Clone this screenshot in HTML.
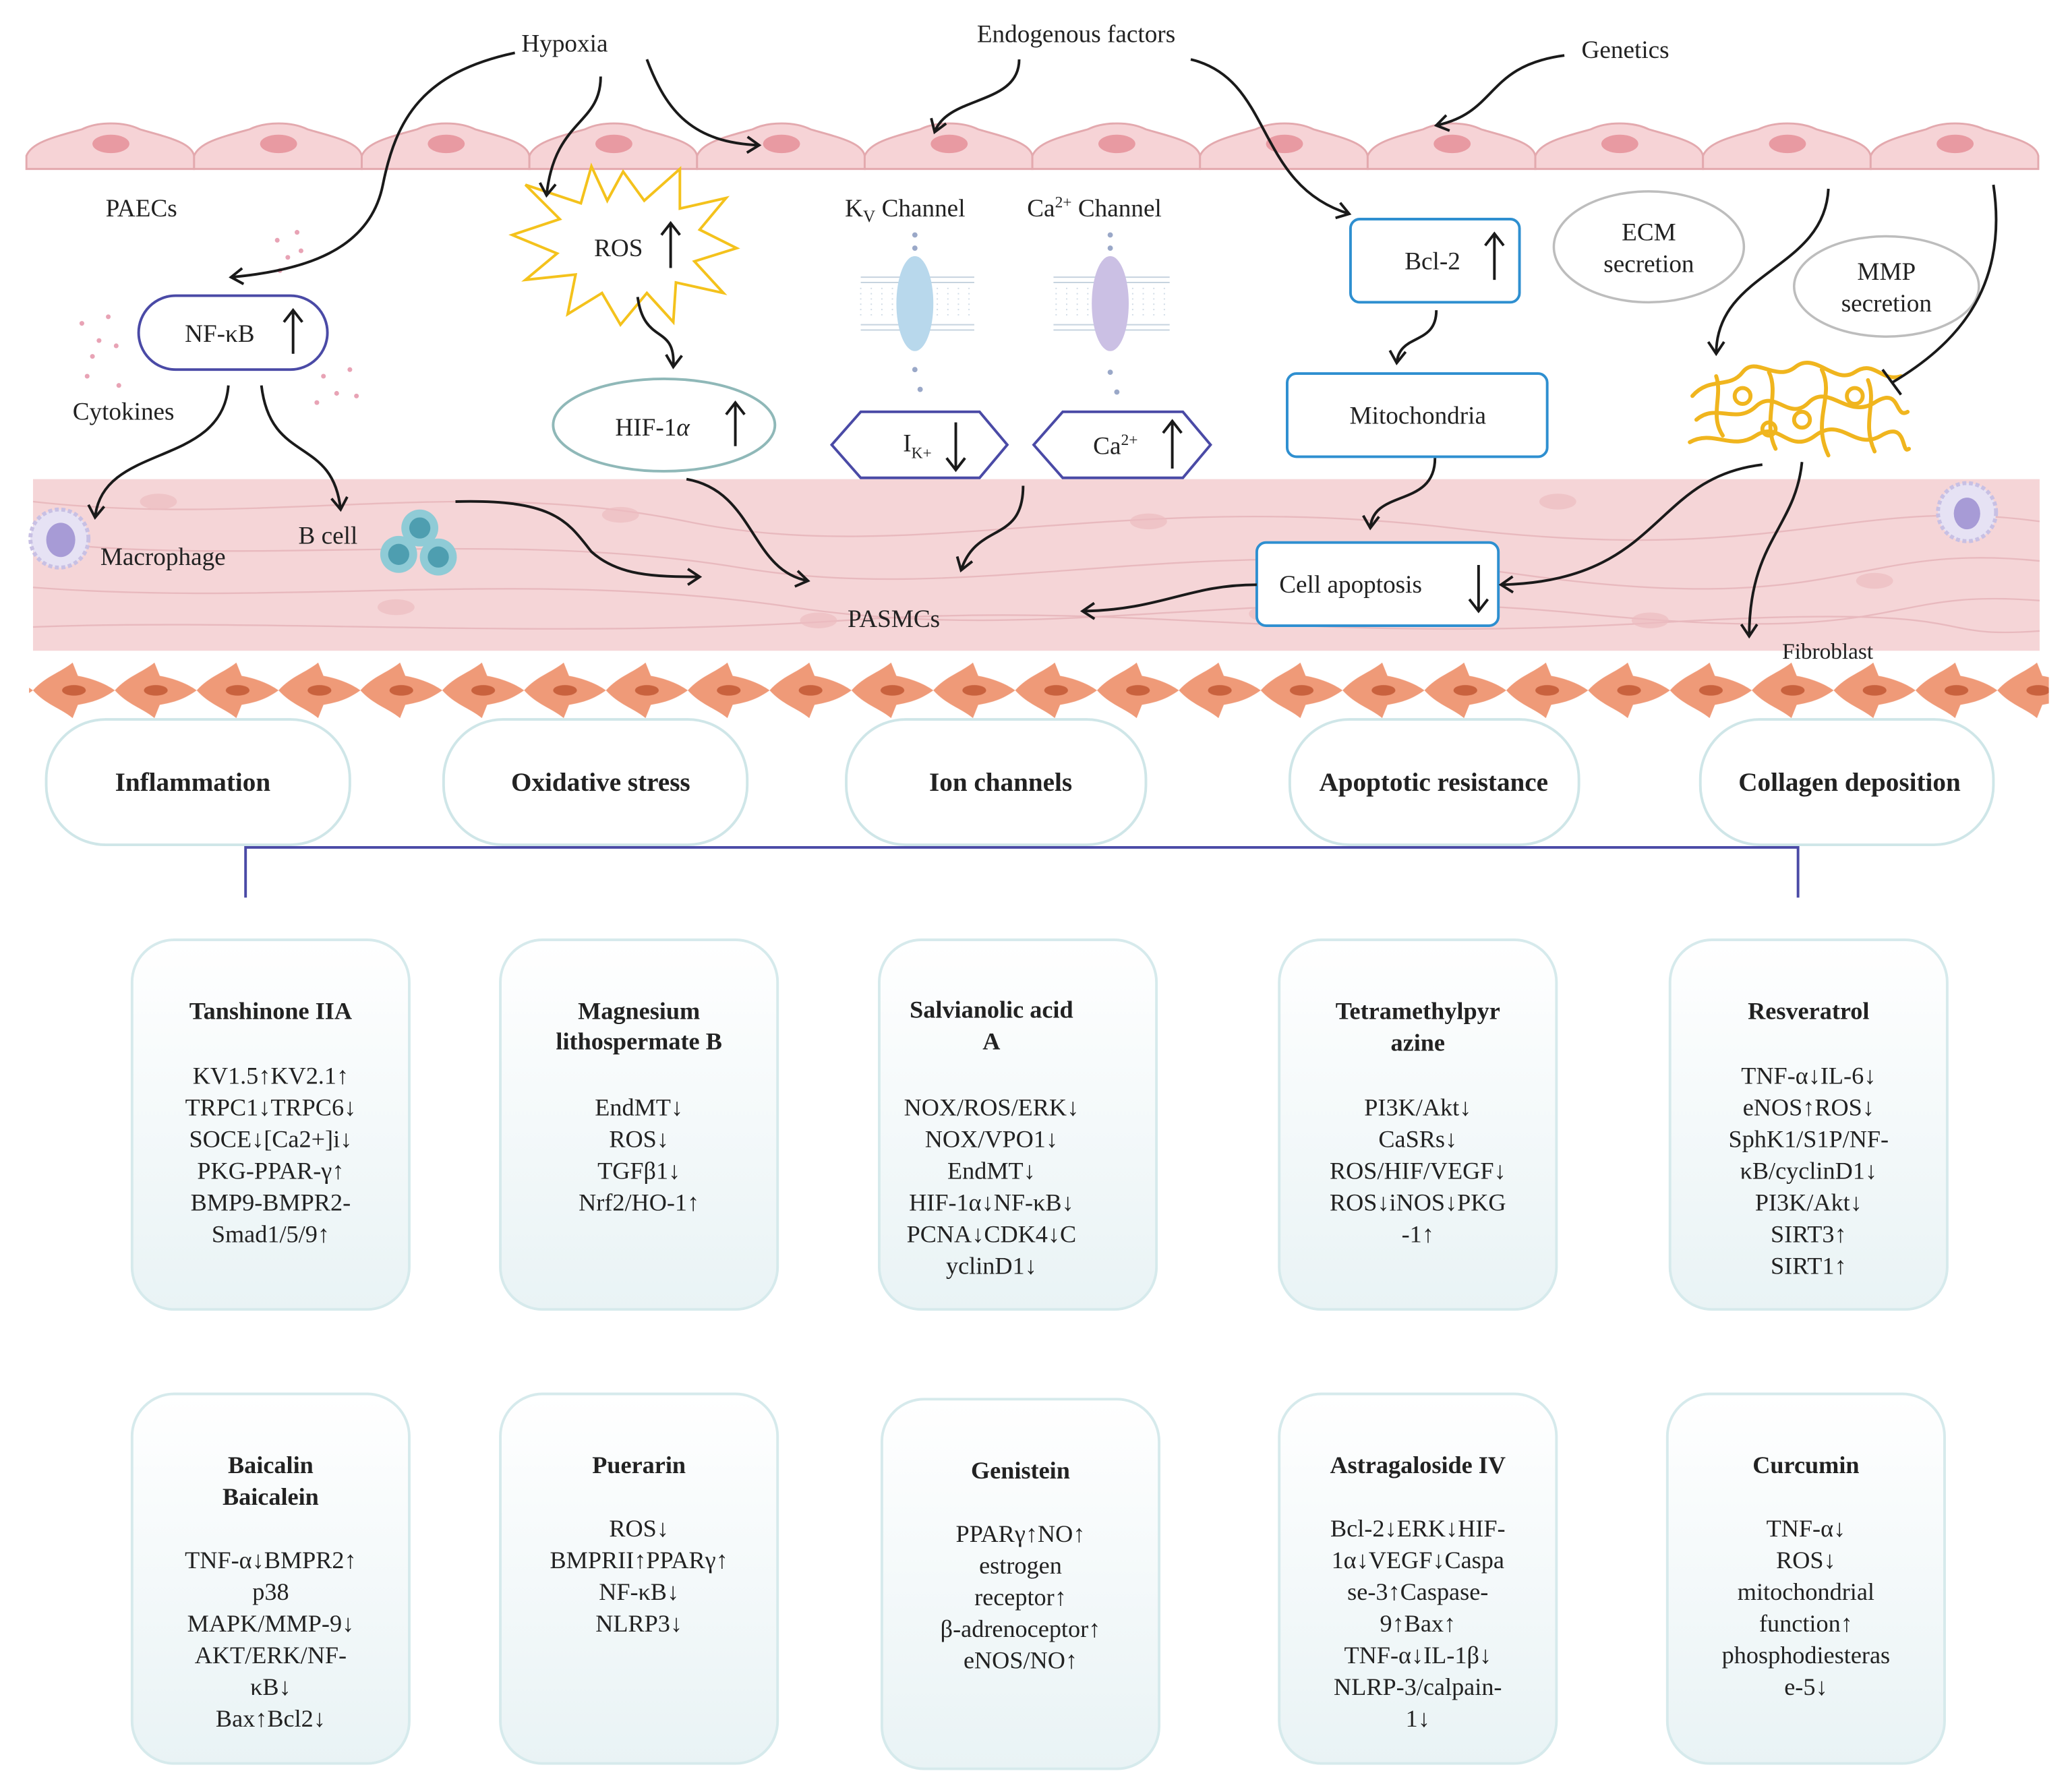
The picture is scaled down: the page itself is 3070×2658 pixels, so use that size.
<!DOCTYPE html>
<html><head><meta charset="utf-8"><style>
html,body{margin:0;padding:0;background:#fff}
svg{display:block}
text{font-family:"Liberation Serif",serif;fill:#222}
.t{font-size:19px}
.bt{font-size:18.5px;font-weight:bold;text-anchor:middle}
.bx{font-size:18.5px;text-anchor:middle}
.cat{font-size:20px;font-weight:bold;text-anchor:middle}
.ar{fill:none;stroke:#1a1a1a;stroke-width:2}
</style></head><body>
<svg width="3070" height="2658" viewBox="0 0 1568 1357.6" xmlns="http://www.w3.org/2000/svg">
<defs>
<marker id="a" markerWidth="14" markerHeight="14" refX="11" refY="7" orient="auto" markerUnits="userSpaceOnUse">
<path d="M2,1 L11,7 L2,13" fill="none" stroke="#1a1a1a" stroke-width="2"/></marker>
<linearGradient id="g" x1="0" y1="0" x2="0" y2="1"><stop offset="0" stop-color="#ffffff"/><stop offset="1" stop-color="#e9f3f5"/></linearGradient>
<pattern id="fib" x="25" y="500" width="62" height="46" patternUnits="userSpaceOnUse">
<path d="M0,23 C10,12 20,10 30,2 L34,12 C45,14 55,18 62,23 C52,30 45,32 34,34 L30,44 C20,36 10,34 0,23Z" fill="#ef9a78"/>
<ellipse cx="31" cy="23" rx="9" ry="4" fill="#c9623e"/></pattern>
</defs>

<g>
<g id="ec">
<path d="M20,128 L20,118 C24,108 40,104 62,98 C74,92 94,92 106,98 C127,104 145,108 147,118 L147,128 Z" fill="#f6d3d6" stroke="#e3a9ae" stroke-width="1.5"/>
<ellipse cx="84" cy="109" rx="14" ry="7" fill="#e89aa2"/>
</g>
<use href="#ec" x="127"/><use href="#ec" x="254"/><use href="#ec" x="381"/><use href="#ec" x="508"/><use href="#ec" x="635"/><use href="#ec" x="762"/><use href="#ec" x="889"/><use href="#ec" x="1016"/><use href="#ec" x="1143"/><use href="#ec" x="1270"/><use href="#ec" x="1397"/>
</g>

<rect x="25" y="363" width="1520" height="130" fill="#f5d5d7"/>
<g fill="none" stroke="#e6b3b8" stroke-width="1.2" opacity="0.8">
<path d="M25,380 C200,400 350,360 520,395 S850,370 1100,400 S1400,375 1545,395"/>
<path d="M25,410 C180,430 380,400 560,430 S900,400 1150,435 S1400,410 1545,425"/>
<path d="M25,445 C220,460 400,430 600,460 S950,440 1200,465 S1420,445 1545,455"/>
<path d="M25,475 C200,468 420,485 640,470 S980,488 1250,472 S1450,485 1545,478"/>
</g>
<g fill="#ecbcc0" opacity="0.7">
<ellipse cx="120" cy="380" rx="14" ry="6"/><ellipse cx="300" cy="460" rx="14" ry="6"/><ellipse cx="470" cy="390" rx="14" ry="6"/><ellipse cx="620" cy="470" rx="14" ry="6"/><ellipse cx="870" cy="395" rx="14" ry="6"/><ellipse cx="960" cy="465" rx="14" ry="6"/><ellipse cx="1180" cy="380" rx="14" ry="6"/><ellipse cx="1250" cy="470" rx="14" ry="6"/><ellipse cx="1420" cy="440" rx="14" ry="6"/>
</g>

<rect x="22" y="500" width="1530" height="46" fill="url(#fib)"/>

<text class="t" x="395" y="39">Hypoxia</text>
<text class="t" x="740" y="32">Endogenous factors</text>
<text class="t" x="1198" y="44">Genetics</text>
<text class="t" x="80" y="164">PAECs</text>
<text class="t" x="55" y="318">Cytokines</text>
<text class="t" x="76" y="428">Macrophage</text>
<text class="t" x="226" y="412">B cell</text>
<text class="t" x="642" y="475">PASMCs</text>
<text class="t" x="1350" y="499" style="font-size:17px">Fibroblast</text>
<text class="t" x="640" y="164">K<tspan font-size="13" dy="4">V</tspan><tspan dy="-4"> Channel</tspan></text>
<text class="t" x="778" y="164">Ca<tspan font-size="12" dy="-7">2+</tspan><tspan dy="7"> Channel</tspan></text>

<g fill="#e8a3b5">
<circle cx="210" cy="182" r="1.8"/><circle cx="218" cy="195" r="1.8"/><circle cx="225" cy="176" r="1.8"/><circle cx="212" cy="205" r="1.8"/><circle cx="228" cy="190" r="1.8"/>
<circle cx="62" cy="245" r="1.8"/><circle cx="75" cy="258" r="1.8"/><circle cx="82" cy="240" r="1.8"/><circle cx="70" cy="270" r="1.8"/><circle cx="88" cy="262" r="1.8"/><circle cx="66" cy="285" r="1.8"/><circle cx="90" cy="292" r="1.8"/>
<circle cx="232" cy="270" r="1.8"/><circle cx="245" cy="285" r="1.8"/><circle cx="255" cy="298" r="1.8"/><circle cx="240" cy="305" r="1.8"/><circle cx="265" cy="280" r="1.8"/><circle cx="270" cy="300" r="1.8"/>
</g>

<rect x="105" y="224" width="143" height="56" rx="28" fill="#fff" stroke="#4a4aa6" stroke-width="2"/>
<text class="t" x="140" y="259">NF-κB</text>
<path d="M222,268 L222,236 M215,244 L222,235 L229,244" stroke="#1a1a1a" stroke-width="2" fill="none"/>

<polygon points="472,130 488,152 515,128 515,158 550,150 530,174 558,188 526,198 548,222 512,214 510,244 490,222 470,246 456,222 430,238 436,208 398,212 422,192 388,178 424,166 398,140 440,154 448,126 460,152" fill="#fff" stroke="#f4c21c" stroke-width="2"/>
<text class="t" x="450" y="194">ROS</text>
<path d="M508,203 L508,170 M501,178 L508,169 L515,178" stroke="#1a1a1a" stroke-width="2" fill="none"/>

<ellipse cx="503" cy="322" rx="84" ry="35" fill="#fff" stroke="#8fb8b8" stroke-width="2"/>
<text class="t" x="466" y="330">HIF-1<tspan font-style="italic">α</tspan></text>
<path d="M557,338 L557,306 M550,314 L557,305 L564,314" stroke="#1a1a1a" stroke-width="2" fill="none"/>

<g>
<g stroke="#c6d3df" stroke-width="1">
<path d="M652,210 H738 M652,214 H738 M652,246 H738 M652,250 H738"/>
<path d="M798,210 H886 M798,214 H886 M798,246 H886 M798,250 H886"/>
</g>
<g stroke="#d0dbe6" stroke-width="1" stroke-dasharray="1 3">
<path d="M652,218 V242 M660,218 V242 M668,218 V242 M676,218 V242 M710,218 V242 M718,218 V242 M726,218 V242 M734,218 V242"/>
<path d="M800,218 V242 M808,218 V242 M816,218 V242 M824,218 V242 M858,218 V242 M866,218 V242 M874,218 V242 M882,218 V242"/>
</g>
<ellipse cx="693" cy="230" rx="14" ry="36" fill="#b8d8ec"/>
<ellipse cx="841" cy="230" rx="14" ry="36" fill="#cbc0e4"/>
<g fill="#9aa8c8"><circle cx="693" cy="178" r="2"/><circle cx="693" cy="188" r="2"/><circle cx="693" cy="280" r="2"/><circle cx="697" cy="295" r="2"/><circle cx="841" cy="178" r="2"/><circle cx="841" cy="188" r="2"/><circle cx="841" cy="282" r="2"/><circle cx="846" cy="297" r="2"/></g>
</g>
<polygon points="630,337 652,312 742,312 763,337 742,362 652,362" fill="#fff" stroke="#4a4aa6" stroke-width="2"/>
<text class="t" x="684" y="342">I<tspan font-size="12" dy="5">K+</tspan></text>
<path d="M724,320 L724,355 M717,347 L724,356 L731,347" stroke="#1a1a1a" stroke-width="2" fill="none"/>
<polygon points="783,337 805,312 896,312 917,337 896,362 805,362" fill="#fff" stroke="#4a4aa6" stroke-width="2"/>
<text class="t" x="828" y="344">Ca<tspan font-size="12" dy="-7">2+</tspan></text>
<path d="M888,355 L888,320 M881,328 L888,319 L895,328" stroke="#1a1a1a" stroke-width="2" fill="none"/>

<rect x="1023" y="166" width="128" height="63" rx="7" fill="#fff" stroke="#2e8fd0" stroke-width="2"/>
<text class="t" x="1064" y="204">Bcl-2</text>
<path d="M1132,212 L1132,178 M1125,186 L1132,177 L1139,186" stroke="#1a1a1a" stroke-width="2" fill="none"/>
<rect x="975" y="283" width="197" height="63" rx="7" fill="#fff" stroke="#2e8fd0" stroke-width="2"/>
<text class="t" x="1074" y="321" text-anchor="middle">Mitochondria</text>
<rect x="952" y="411" width="183" height="63" rx="7" fill="#fff" stroke="#2e8fd0" stroke-width="2"/>
<text class="t" x="969" y="449">Cell apoptosis</text>
<path d="M1120,428 L1120,462 M1113,454 L1120,463 L1127,454" stroke="#1a1a1a" stroke-width="2" fill="none"/>

<ellipse cx="1249" cy="187" rx="72" ry="42" fill="#fff" stroke="#bdbdbd" stroke-width="1.8"/>
<text class="t" x="1249" y="182" text-anchor="middle">ECM</text>
<text class="t" x="1249" y="206" text-anchor="middle">secretion</text>
<ellipse cx="1429" cy="217" rx="70" ry="38" fill="#fff" stroke="#bdbdbd" stroke-width="1.8"/>
<text class="t" x="1429" y="212" text-anchor="middle">MMP</text>
<text class="t" x="1429" y="236" text-anchor="middle">secretion</text>

<g fill="none" stroke="#f0b51e" stroke-width="3" stroke-linecap="round">
<path d="M1282,300 C1295,285 1310,295 1320,282 S1345,290 1360,278 S1390,292 1405,282 S1425,290 1440,285"/>
<path d="M1285,318 C1300,305 1315,322 1330,308 S1355,320 1370,305 S1400,318 1420,305 S1435,318 1445,312"/>
<path d="M1280,335 C1298,325 1312,342 1330,330 S1355,345 1375,330 S1405,342 1425,330 S1440,345 1446,340"/>
<path d="M1300,285 C1305,300 1295,315 1305,330 M1340,282 C1348,298 1335,320 1345,340 M1380,280 C1390,300 1372,318 1385,345 M1415,288 C1422,305 1410,320 1420,342"/>
<circle cx="1320" cy="300" r="6"/><circle cx="1365" cy="318" r="6"/><circle cx="1405" cy="300" r="6"/><circle cx="1340" cy="325" r="5"/>
</g>

<g>
<circle cx="45" cy="408" r="22" fill="#e6e2f4" stroke="#c8c0e4" stroke-width="3" stroke-dasharray="3 2"/>
<ellipse cx="46" cy="409" rx="11" ry="13" fill="#a79bd6"/>
<circle cx="1490" cy="388" r="22" fill="#e6e2f4" stroke="#c8c0e4" stroke-width="3" stroke-dasharray="3 2"/>
<ellipse cx="1490" cy="389" rx="10" ry="12" fill="#a79bd6"/>
<circle cx="318" cy="400" r="14" fill="#8fcbd6"/><circle cx="318" cy="400" r="8" fill="#4e9eb0"/>
<circle cx="302" cy="420" r="14" fill="#8fcbd6"/><circle cx="302" cy="420" r="8" fill="#4e9eb0"/>
<circle cx="332" cy="422" r="14" fill="#8fcbd6"/><circle cx="332" cy="422" r="8" fill="#4e9eb0"/>
</g>

<g class="ar" marker-end="url(#a)">
<path d="M390,40 C320,55 300,90 290,140 C280,190 230,205 175,210"/>
<path d="M455,58 C455,95 420,90 414,148"/>
<path d="M490,45 C505,85 525,108 575,110"/>
<path d="M772,45 C772,80 718,72 708,100"/>
<path d="M902,45 C965,60 950,140 1022,162"/>
<path d="M1185,42 C1125,50 1135,85 1088,95"/>
<path d="M1385,143 C1382,205 1300,205 1300,268"/>
<path d="M173,292 C168,355 78,335 72,392"/>
<path d="M198,292 C205,352 252,330 258,386"/>
<path d="M345,380 C420,378 430,395 448,418 C468,436 495,437 530,437"/>
<path d="M520,363 C572,372 568,432 612,440"/>
<path d="M483,225 C488,262 512,245 510,278"/>
<path d="M775,368 C775,412 740,395 728,432"/>
<path d="M1088,235 C1088,262 1060,252 1058,275"/>
<path d="M1087,347 C1087,385 1040,370 1038,400"/>
<path d="M952,443 C900,443 880,462 820,463"/>
<path d="M1335,352 C1250,362 1260,440 1137,443"/>
<path d="M1365,350 C1360,400 1325,410 1325,482"/>
</g>
<path class="ar" d="M1510,140 C1522,220 1480,262 1433,290"/>
<path d="M1426,280 L1440,299" stroke="#1a1a1a" stroke-width="2"/>

<g fill="#fff" stroke="#cfe6e8" stroke-width="2">
<rect x="35" y="545" width="230" height="95" rx="45"/>
<rect x="336" y="545" width="230" height="95" rx="45"/>
<rect x="641" y="545" width="227" height="95" rx="45"/>
<rect x="977" y="545" width="219" height="95" rx="45"/>
<rect x="1288" y="545" width="222" height="95" rx="45"/>
</g>
<text class="cat" x="146" y="599">Inflammation</text>
<text class="cat" x="455" y="599">Oxidative stress</text>
<text class="cat" x="758" y="599">Ion channels</text>
<text class="cat" x="1086" y="599">Apoptotic resistance</text>
<text class="cat" x="1401" y="599">Collagen deposition</text>

<path d="M186,680 V642 H1362 V680" fill="none" stroke="#4a4aa6" stroke-width="2"/>

<g fill="url(#g)" stroke="#d6eaec" stroke-width="2">
<rect x="100" y="712" width="210" height="280" rx="32"/>
<rect x="379" y="712" width="210" height="280" rx="32"/>
<rect x="666" y="712" width="210" height="280" rx="32"/>
<rect x="969" y="712" width="210" height="280" rx="32"/>
<rect x="1265" y="712" width="210" height="280" rx="32"/>
<rect x="100" y="1056" width="210" height="280" rx="32"/>
<rect x="379" y="1056" width="210" height="280" rx="32"/>
<rect x="668" y="1060" width="210" height="280" rx="32"/>
<rect x="969" y="1056" width="210" height="280" rx="32"/>
<rect x="1263" y="1056" width="210" height="280" rx="32"/>
</g>

<text class="bt" x="205" y="772">Tanshinone IIA</text>
<text class="bx" x="205" y="821">KV1.5↑KV2.1↑</text><text class="bx" x="205" y="845">TRPC1↓TRPC6↓</text><text class="bx" x="205" y="869">SOCE↓[Ca2+]i↓</text><text class="bx" x="205" y="893">PKG-PPAR-γ↑</text><text class="bx" x="205" y="917">BMP9-BMPR2-</text><text class="bx" x="205" y="941">Smad1/5/9↑</text>

<text class="bt" x="484" y="772">Magnesium</text><text class="bt" x="484" y="795">lithospermate B</text>
<text class="bx" x="484" y="845">EndMT↓</text><text class="bx" x="484" y="869">ROS↓</text><text class="bx" x="484" y="893">TGFβ1↓</text><text class="bx" x="484" y="917">Nrf2/HO-1↑</text>

<text class="bt" x="751" y="771">Salvianolic acid</text><text class="bt" x="751" y="795">A</text>
<text class="bx" x="751" y="845">NOX/ROS/ERK↓</text><text class="bx" x="751" y="869">NOX/VPO1↓</text><text class="bx" x="751" y="893">EndMT↓</text><text class="bx" x="751" y="917">HIF-1α↓NF-κB↓</text><text class="bx" x="751" y="941">PCNA↓CDK4↓C</text><text class="bx" x="751" y="965">yclinD1↓</text>

<text class="bt" x="1074" y="772">Tetramethylpyr</text><text class="bt" x="1074" y="796">azine</text>
<text class="bx" x="1074" y="845">PI3K/Akt↓</text><text class="bx" x="1074" y="869">CaSRs↓</text><text class="bx" x="1074" y="893">ROS/HIF/VEGF↓</text><text class="bx" x="1074" y="917">ROS↓iNOS↓PKG</text><text class="bx" x="1074" y="941">-1↑</text>

<text class="bt" x="1370" y="772">Resveratrol</text>
<text class="bx" x="1370" y="821">TNF-α↓IL-6↓</text><text class="bx" x="1370" y="845">eNOS↑ROS↓</text><text class="bx" x="1370" y="869">SphK1/S1P/NF-</text><text class="bx" x="1370" y="893">κB/cyclinD1↓</text><text class="bx" x="1370" y="917">PI3K/Akt↓</text><text class="bx" x="1370" y="941">SIRT3↑</text><text class="bx" x="1370" y="965">SIRT1↑</text>

<text class="bt" x="205" y="1116">Baicalin</text><text class="bt" x="205" y="1140">Baicalein</text>
<text class="bx" x="205" y="1188">TNF-α↓BMPR2↑</text><text class="bx" x="205" y="1212">p38</text><text class="bx" x="205" y="1236">MAPK/MMP-9↓</text><text class="bx" x="205" y="1260">AKT/ERK/NF-</text><text class="bx" x="205" y="1284">κB↓</text><text class="bx" x="205" y="1308">Bax↑Bcl2↓</text>

<text class="bt" x="484" y="1116">Puerarin</text>
<text class="bx" x="484" y="1164">ROS↓</text><text class="bx" x="484" y="1188">BMPRII↑PPARγ↑</text><text class="bx" x="484" y="1212">NF-κB↓</text><text class="bx" x="484" y="1236">NLRP3↓</text>

<text class="bt" x="773" y="1120">Genistein</text>
<text class="bx" x="773" y="1168">PPARγ↑NO↑</text><text class="bx" x="773" y="1192">estrogen</text><text class="bx" x="773" y="1216">receptor↑</text><text class="bx" x="773" y="1240">β-adrenoceptor↑</text><text class="bx" x="773" y="1264">eNOS/NO↑</text>

<text class="bt" x="1074" y="1116">Astragaloside IV</text>
<text class="bx" x="1074" y="1164">Bcl-2↓ERK↓HIF-</text><text class="bx" x="1074" y="1188">1α↓VEGF↓Caspa</text><text class="bx" x="1074" y="1212">se-3↑Caspase-</text><text class="bx" x="1074" y="1236">9↑Bax↑</text><text class="bx" x="1074" y="1260">TNF-α↓IL-1β↓</text><text class="bx" x="1074" y="1284">NLRP-3/calpain-</text><text class="bx" x="1074" y="1308">1↓</text>

<text class="bt" x="1368" y="1116">Curcumin</text>
<text class="bx" x="1368" y="1164">TNF-α↓</text><text class="bx" x="1368" y="1188">ROS↓</text><text class="bx" x="1368" y="1212">mitochondrial</text><text class="bx" x="1368" y="1236">function↑</text><text class="bx" x="1368" y="1260">phosphodiesteras</text><text class="bx" x="1368" y="1284">e-5↓</text>
</svg>
</body></html>
